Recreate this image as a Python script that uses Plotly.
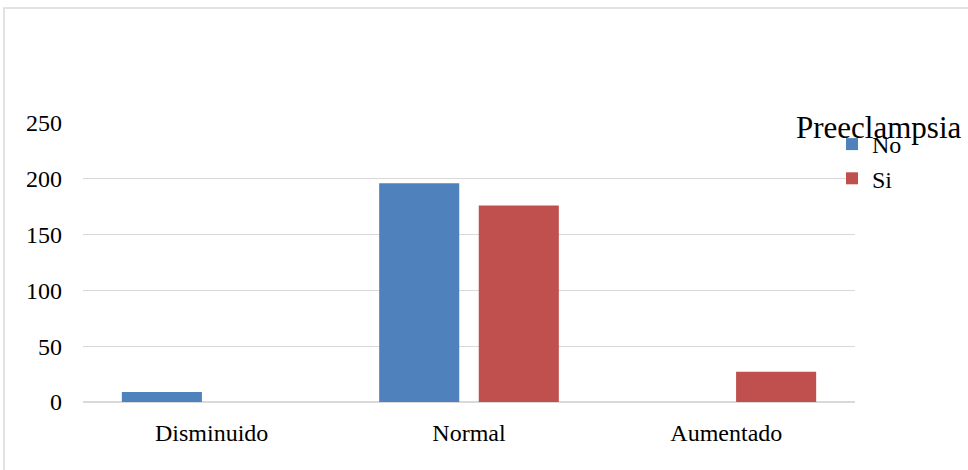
import plotly.graph_objects as go

categories = ["Disminuido", "Normal", "Aumentado"]
no_values = [9, 196, 0]
si_values = [0, 176, 27]
y_ticks = [0, 50, 100, 150, 200, 250]

FONT = "Liberation Serif, Times New Roman, serif"

fig = go.Figure()
fig.add_trace(go.Bar(name="No", x=categories, y=no_values,
                     marker=dict(color="#4F81BD", line=dict(width=0))))
fig.add_trace(go.Bar(name="Si", x=categories, y=si_values,
                     marker=dict(color="#C0504D", line=dict(width=0))))

L, R, T, B = 83, 113, 123, 68
W, H = 968, 470
pw, ph = W - L - R, H - T - B

def px_x(x):
    return (x - L) / pw

def px_y(y):
    return (H - B - y) / ph

fig.update_layout(
    width=W, height=H,
    margin=dict(l=L, r=R, t=T, b=B, pad=0),
    paper_bgcolor="white", plot_bgcolor="white",
    barmode="group", bargap=0.226, bargroupgap=0.196,
    font=dict(family=FONT, size=24, color="black"),
    showlegend=True,
    legend=dict(
        x=px_x(832), y=px_y(122), xanchor="left", yanchor="top",
        font=dict(family=FONT, size=24, color="black"),
        bgcolor="rgba(0,0,0,0)", itemwidth=30,
        tracegroupgap=0, itemclick=False,
    ),
    xaxis=dict(
        showgrid=False, showline=False, zeroline=False, ticks="",
        tickfont=dict(family=FONT, size=24, color="black"),
        ticklabelstandoff=14,
    ),
    yaxis=dict(
        range=[0, 250], tickvals=y_ticks,
        showgrid=True, gridcolor="#d9d9d9", gridwidth=1,
        zeroline=True, zerolinecolor="#d9d9d9", zerolinewidth=2,
        showline=False, ticks="",
        tickfont=dict(family=FONT, size=24, color="black"),
        ticklabelstandoff=20,
    ),
    annotations=[dict(
        text="Preeclampsia", xref="paper", yref="paper",
        x=px_x(964), y=px_y(147), xanchor="right", yanchor="bottom",
        showarrow=False, font=dict(family=FONT, size=31, color="black"),
    )],
    shapes=[dict(
        type="rect", xref="paper", yref="paper",
        x0=px_x(4), x1=px_x(975), y0=px_y(480), y1=px_y(8),
        line=dict(color="#d9d9d9", width=1.5), fillcolor="rgba(0,0,0,0)",
        layer="below",
    )],
)

fig.write_html("out.html")
